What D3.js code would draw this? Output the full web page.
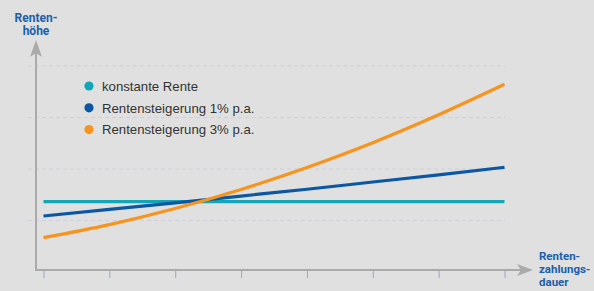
<!DOCTYPE html>
<html>
<head>
<meta charset="utf-8">
<script src="https://cdn.jsdelivr.net/npm/d3@7"></script>
<style>
  html, body { margin: 0; padding: 0; background: #dfe0df; }
  svg { display: block; }
  .title { font-family: Roboto, "Liberation Sans", sans-serif; font-weight: bold; font-size: 12px; fill: #1b5fab; }
  .xtitle { font-size: 11.5px; }
  .legend text { font-family: "Liberation Sans", Arial, sans-serif; font-size: 13.2px; fill: #333; }
</style>
</head>
<body>
<svg id="chart"></svg>
<script>
// years along the payout period (tick positions)
var years = [0, 1, 2, 3, 4, 5, 6, 7];

// pension level (grid units)
var konstant = [1.365, 1.365, 1.365, 1.365, 1.365, 1.365, 1.365, 1.365];
var steigerung1 = [1.088, 1.215, 1.344, 1.475, 1.607, 1.747, 1.887, 2.033];
var steigerung3 = [0.667, 0.921, 1.234, 1.603, 2.030, 2.511, 3.053, 3.645];

var gridValues = [1, 2, 3, 4];

var seriesNames = ["konstante Rente", "Rentensteigerung 1% p.a.", "Rentensteigerung 3% p.a."];
var seriesColors = ["#10a7b6", "#0b57a4", "#f7941d"];
var seriesValues = [konstant, steigerung1, steigerung3];

var width = 594, height = 291;
var svg = d3.select("#chart").attr("width", width).attr("height", height);

var x = d3.scaleLinear().domain([0, 7]).range([43.5, 504.5]);
var y = d3.scaleLinear().domain([0, 4]).range([272, 66]);

var axisColor = "#a9aaa9";
var axisX = 36, axisY = 270;

// grid
svg.append("g").selectAll("line")
  .data(gridValues)
  .enter().append("line")
  .attr("x1", 28).attr("x2", 505)
  .attr("y1", function(d){ return y(d); })
  .attr("y2", function(d){ return y(d); })
  .attr("stroke", "#cdd0da")
  .attr("stroke-width", 1)
  .attr("stroke-dasharray", "4,3");

// ticks below the x axis
var xAxis = d3.axisBottom(x).tickValues(years).tickSize(7).tickFormat("");
var gx = svg.append("g")
  .attr("transform", "translate(0," + (axisY + 1) + ")")
  .call(xAxis);
gx.select(".domain").remove();
gx.selectAll(".tick line").attr("stroke", "#98a8c8").attr("stroke-width", 1);

// axis lines
svg.append("line")
  .attr("x1", axisX).attr("x2", axisX)
  .attr("y1", 52).attr("y2", axisY + 1)
  .attr("stroke", axisColor).attr("stroke-width", 2);
svg.append("line")
  .attr("x1", axisX - 1).attr("x2", 522)
  .attr("y1", axisY).attr("y2", axisY)
  .attr("stroke", axisColor).attr("stroke-width", 2);

// arrow heads
svg.append("path")
  .attr("d", "M" + axisX + ",40 L" + (axisX + 6) + ",57 L" + axisX + ",53 L" + (axisX - 6) + ",57 Z")
  .attr("fill", axisColor);
svg.append("path")
  .attr("d", "M533," + axisY + " L517," + (axisY - 6) + " L521," + axisY + " L517," + (axisY + 6) + " Z")
  .attr("fill", axisColor);

// lines
var line = d3.line()
  .x(function(d, i){ return x(years[i]); })
  .y(function(d){ return y(d); })
  .curve(d3.curveMonotoneX);

svg.append("g").selectAll("path")
  .data(seriesValues)
  .enter().append("path")
  .attr("d", line)
  .attr("fill", "none")
  .attr("stroke", function(d, i){ return seriesColors[i]; })
  .attr("stroke-width", 3.2);

// legend
var legend = svg.append("g").attr("class", "legend")
  .attr("transform", "translate(89,86)");
var item = legend.selectAll("g")
  .data(seriesNames)
  .enter().append("g")
  .attr("transform", function(d, i){ return "translate(0," + (i * 21.8) + ")"; });
item.append("circle")
  .attr("r", 4.6)
  .attr("fill", function(d, i){ return seriesColors[i]; });
item.append("text")
  .attr("x", 13)
  .attr("dy", "0.36em")
  .text(function(d){ return d; });

// axis titles
var yTitle = svg.append("text").attr("class", "title").attr("text-anchor", "middle");
yTitle.append("tspan").attr("x", 36).attr("y", 22).text("Renten-");
yTitle.append("tspan").attr("x", 36).attr("y", 35).text("höhe");

var xTitle = svg.append("text").attr("class", "title xtitle");
xTitle.append("tspan").attr("x", 539).attr("y", 260).text("Renten-");
xTitle.append("tspan").attr("x", 539).attr("y", 273).text("zahlungs-");
xTitle.append("tspan").attr("x", 539).attr("y", 286).text("dauer");
</script>
</body>
</html>
